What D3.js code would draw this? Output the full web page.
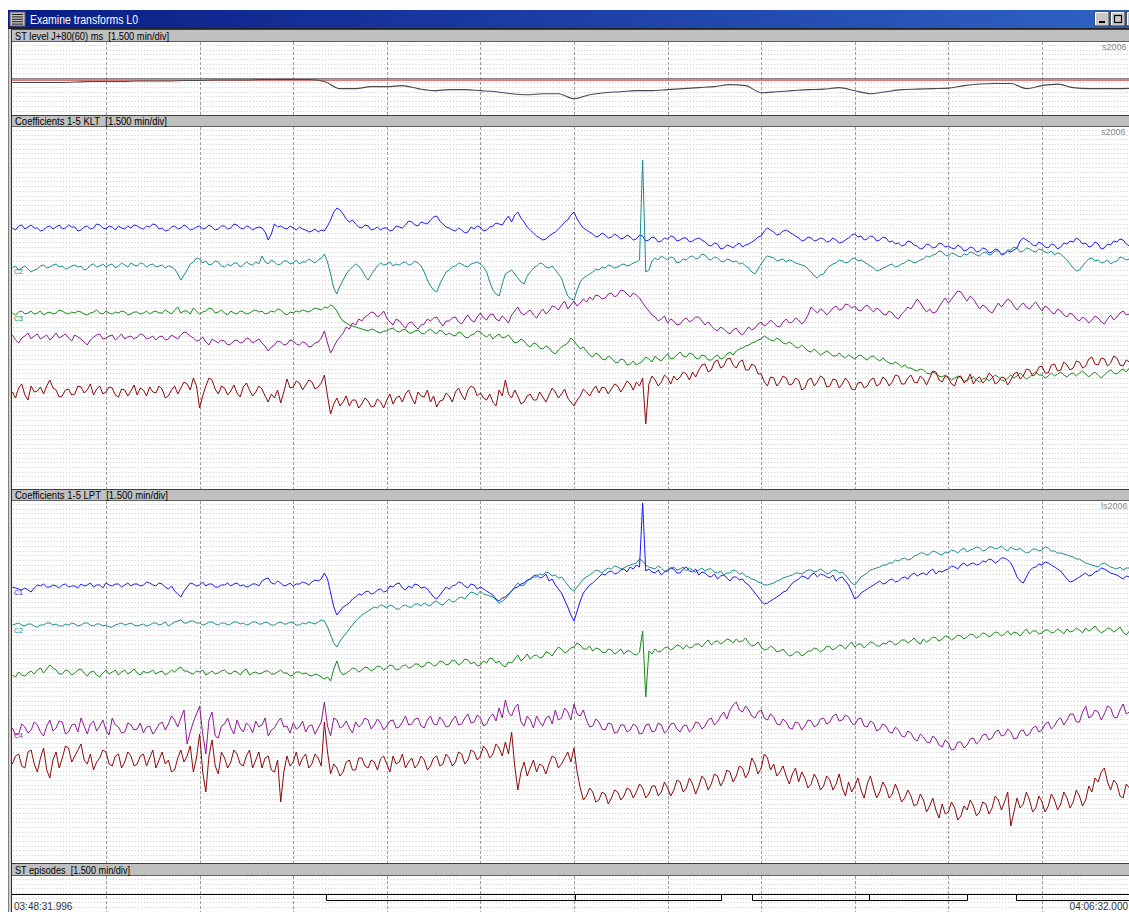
<!DOCTYPE html>
<html>
<head>
<meta charset="utf-8">
<script src="https://cdn.jsdelivr.net/npm/d3@7"></script>
<style>
  html, body { margin: 0; padding: 0; background: #fff; overflow: hidden; }
  svg { display: block; font-family: "Liberation Sans", Arial, sans-serif; }
  text { white-space: pre; }
</style>
</head>
<body>
<svg id="chart" width="1129" height="912"></svg>
<script>
// ---- Recording window ----
const windowTitle = "Examine transforms L0";
const recordId = "s2006";
const startTime = "03:48:31.996";
const endTime = "04:06:32.000";
const minutesPerDiv = 1.5;
const totalMinutes = 18;
const panelTitles = [
  "ST level J+80(60) ms  [1.500 min/div]",
  "Coefficients 1-5 KLT  [1.500 min/div]",
  "Coefficients 1-5 LPT  [1.500 min/div]",
  "ST episodes  [1.500 min/div]"
];

// ---- ST level (µV), one value every 0.25 min ----
const stStep = 0.25;
const stLevel = [
  -30, -30, -30, -30, -25, -20, -20, -20, -15, -15,
  -15, -10, -10, -5, -5, -5, 0, 0, 0, 0,
  -20, -90, -90, -70, -70, -60, -90, -110, -100, -100,
  -110, -120, -140, -150, -140, -140, -190, -150, -130, -120,
  -110, -110, -100, -90, -80, -70, -50, -60, -130, -120,
  -110, -100, -95, -80, -110, -140, -120, -100, -95, -90,
  -85, -60, -45, -40, -40, -90, -60, -45, -80, -90,
  -90, -90, -85
];

// ---- KLT / LPT coefficients, one value every 0.05 min ----
const coefStep = 0.05;
const kltC1 = [
  0,-2, 2,3, -1,1, 3,0, 0,-3, -2,1, 2,-1, 1,3, -1,0, 3,1,
  1,-3, -2,1, 2,-1, 0,4, 3,0, -1,2, 1,-2, 2,0, -1,2, 0,3,
  2,0, -1,2, 1,4, 3,-1, 0,-3, -2,1, 2,-1, 0,3, 1,-2, -1,1,
  2,-1, 0,3, 1,-2, -1,2, 2,-1, 0,4, 3,0, -1,2, 1,-2, 0,1,
  0,-4, -12,-6, 4,1, 2,0, -1,2, 0,-2, 1,-1, -2,-4, -3,-1, -4,-2,
  -3,2, 8,16, 20,18, 14,9, 6,8, 4,1, 0,3, 2,-2, -1,1, -2,0,
  0,-3, -2,2, 1,0, 3,7, 6,3, 2,6, 5,4, 8,11, 12,7, 4,1,
  0,-2, -3,0, -2,-5, -4,1, -1,2, 1,-3, -2,1, 2,5, 4,3, 8,12,
  6,13, 16,10, 6,1, -2,-5, -8,-10, -12,-11, -8,-6, -4,-1, 2,6, 8,13,
  16,9, 4,0, -2,-4, -6,-9, -8,-5, -7,-10, -9,-6, -8,-11, -10,-7, -9,-12,
  -11,-7, -8,-13, -12,-9, -10,-14, -13,-10, -11,-8, -9,-13, -12,-10, -10,-14, -13,-11,
  -10,-12, -14,-17, -18,-15, -16,-21, -20,-17, -18,-20, -17,-15, -19,-17, -16,-14, -12,-9,
  -8,-3, 0,-2, -4,-7, -6,-3, -2,-4, -6,-8, -10,-13, -12,-9, -10,-13, -12,-10,
  -11,-14, -13,-10, -12,-15, -14,-12, -10,-7, -6,-9, -8,-12, -11,-8, -9,-13, -12,-9,
  -10,-14, -13,-16, -15,-18, -17,-13, -14,-17, -18,-21, -20,-16, -17,-20, -19,-15, -16,-19,
  -18,-20, -21,-17, -19,-23, -22,-19, -20,-24, -23,-20, -21,-25, -24,-21, -22,-27, -26,-23,
  -24,-22, -20,-13, -10,-12, -14,-17, -18,-14, -16,-19, -20,-16, -17,-21, -19,-15, -16,-13,
  -14,-10, -12,-16, -15,-19, -18,-14, -16,-21, -20,-16, -17,-13, -14,-11, -12,-16, -18,-15
];
const kltC2 = [
  -2,0, -4,-2, 0,-3, -6,-4, -3,0, 1,-2, -1,1, 2,-1, 0,-3, -2,0,
  1,-1, 0,-4, -3,1, 2,-1, 0,2, -1,1, 2,-2, 0,3, 1,-1, 3,1,
  0,3, 2,-1, 1,2, -1,0, 1,-2, 0,-1, -3,-8, -14,-9, -4,2, 4,8,
  7,3, 5,1, 2,5, 4,0, -1,2, 0,3, 3,-1, 1,4, 2,1, 4,2,
  10,4, 2,6, 4,1, 2,5, 5,2, 3,6, 2,4, 4,7, 5,3, 6,8,
  12,4, -8,-22, -28,-20, -14,-8, -4,-1, 2,0, -4,-10, -14,-9, -4,0, 3,1,
  2,4, 0,2, 1,3, 4,1, 2,5, 3,0, -6,-14, -20,-24, -26,-18, -12,-6,
  -4,-1, 0,3, 2,0, -1,2, 3,4, 2,-1, -6,-16, -24,-28, -30,-18, -8,-6,
  -4,-8, -12,-16, -18,-10, -6,-2, 0,3, 2,-1, -2,0, -4,-8, -12,-22, -30,-33,
  -34,-24, -16,-12, -10,-8, -6,-3, -4,-1, -2,1, 0,-2, -1,1, 2,0, 1,3,
  4,6, 106,-6, -4,5, 8,6, 10,8, 6,9, 8,3, 4,7, 6,9, 10,7,
  8,12, 11,7, 6,9, 8,5, 4,7, 6,4, 5,2, 3,0, -2,-6, -8,-3,
  2,7, 10,9, 8,5, 6,7, 4,6, 5,3, 2,1, 0,-3, -6,-10, -12,-9,
  -8,-3, 0,2, 3,6, 5,3, 4,7, 8,5, 6,4, 2,0, -2,-5, -4,-2,
  -1,1, 2,-1, 0,2, 3,6, 5,3, 4,6, 7,10, 9,11, 12,15, 14,11,
  10,13, 12,10, 9,12, 11,14, 13,11, 10,13, 14,11, 12,15, 15,12, 13,16,
  16,19, 18,14, 15,18, 17,15, 14,17, 16,14, 13,15, 11,13, 12,9, 6,2,
  -2,-5, -4,0, 4,7, 8,5, 6,3, 4,6, 2,4, 5,9, 8,6, 7,9
];
const kltC3 = [
  0,-2, 1,2, -1,0, 2,-1, 0,2, -2,0, 1,-1, 0,3, 2,0, -1,1,
  0,2, 1,-1, -2,0, 1,3, 0,-1, 2,0, -1,1, 0,2, 1,-2, -1,1,
  1,-1, 0,2, -1,1, 2,0, 0,3, 1,-1, 3,6, 0,2, 2,-1, 5,2,
  -1,1, 2,5, 4,0, 1,3, 0,-2, 2,0, -1,2, 1,-1, 0,2, 3,1,
  2,-1, 0,2, 1,4, 3,0, -2,1, 0,2, 1,3, 2,1, 3,5, 4,3,
  6,5, 8,6, 2,-4, -8,-10, -12,-13, -14,-15, -16,-17, -18,-16, -17,-19, -20,-18,
  -18,-16, -15,-18, -19,-17, -16,-20, -20,-18, -17,-20, -21,-18, -16,-19, -21,-17, -19,-22,
  -20,-22, -23,-19, -20,-24, -25,-22, -21,-18, -19,-22, -24,-21, -26,-23, -21,-25, -24,-22,
  -26,-30, -29,-26, -28,-32, -34,-30, -31,-35, -36,-33, -35,-39, -41,-37, -34,-32, -30,-25,
  -28,-32, -36,-34, -38,-42, -44,-40, -42,-46, -47,-43, -45,-49, -50,-46, -47,-52, -51,-48,
  -52,-50, -48,-44, -46,-49, -43,-46, -48,-44, -41,-46, -45,-42, -39,-43, -44,-40, -41,-45,
  -46,-42, -43,-47, -47,-44, -42,-46, -45,-41, -39,-42, -38,-36, -35,-33, -32,-30, -29,-27,
  -26,-23, -25,-27, -28,-25, -27,-30, -31,-29, -31,-34, -35,-32, -35,-38, -39,-36, -39,-42,
  -40,-38, -40,-43, -43,-40, -43,-45, -42,-44, -46,-43, -42,-45, -47,-44, -43,-46, -48,-45,
  -48,-50, -51,-49, -51,-54, -52,-55, -55,-57, -58,-56, -57,-60, -61,-59, -61,-63, -64,-62,
  -64,-67, -65,-63, -65,-68, -68,-65, -64,-67, -69,-66, -65,-68, -65,-62, -64,-67, -68,-65,
  -62,-65, -63,-60, -63,-66, -64,-61, -59,-62, -62,-65, -63,-60, -63,-61, -59,-62, -64,-61,
  -60,-63, -60,-58, -61,-64, -61,-59, -62,-65, -62,-59, -57,-60, -61,-58, -56,-59, -55,-57
];
const kltC4 = [
  2,-3, -6,-1, 1,4, -2,1, 3,-2, 0,2, -3,0, 4,-1, 1,3, -1,-4,
  2,0, -2,-5, -8,-3, 0,2, 3,-2, -1,1, 2,-3, 0,3, -2,0, 1,-2,
  0,3, 2,-2, -1,1, -3,0, 1,-3, -2,2, 0,-2, 2,5, 4,1, -1,-4,
  -3,0, -5,-8, -2,-4, -6,-3, -4,-8, -7,-4, -3,-6, -5,-1, -2,-6, -4,-2,
  -6,-9, -14,-10, -8,-4, -5,-8, -7,-3, -4,-7, -8,-5, -6,-10, -9,-6, -5,-1,
  6,-6, -16,-10, -4,0, 4,10, 8,14, 12,18, 16,20, 22,25, 24,20, 22,26,
  19,15, 12,18, 16,12, 9,14, 15,11, 8,12, 13,18, 16,19, 20,15, 11,16,
  16,19, 20,15, 13,18, 22,17, 15,20, 24,19, 17,22, 23,18, 16,21, 18,14,
  22,26, 30,24, 22,25, 27,22, 19,24, 28,23, 26,31, 30,27, 32,36, 28,32,
  36,31, 34,38, 35,40, 37,42, 41,38, 39,43, 44,40, 42,47, 46,43, 40,44,
  42,39, 34,30, 26,22, 20,16, 18,21, 14,18, 16,12, 13,17, 19,15, 17,20,
  20,16, 12,15, 11,8, 6,10, 8,5, 3,7, 9,4, 2,6, 10,7, 9,13,
  15,11, 13,17, 14,11, 10,15, 18,14, 15,19, 17,13, 16,22, 30,27, 24,28,
  26,22, 25,29, 31,27, 28,33, 32,29, 31,27, 26,30, 32,28, 25,29, 27,23,
  22,26, 24,20, 18,23, 26,30, 28,33, 38,34, 29,25, 28,24, 25,30, 35,39,
  34,38, 42,46, 45,40, 36,41, 38,33, 28,32, 30,26, 24,29, 34,30, 34,38,
  36,31, 27,31, 34,30, 28,32, 35,30, 26,31, 29,25, 23,28, 26,22, 20,24,
  22,18, 16,20, 18,14, 17,21, 19,15, 13,18, 22,17, 20,24, 26,22, 23,27
];
const kltC5 = [
  0,-6, 4,8, -3,-8, 6,0, 1,5, -2,6, 12,4, 2,-5, -4,2, 3,-3,
  -2,6, 5,-1, 2,8, -3,3, 6,-2, 0,5, 4,-3, -5,3, 2,-4, 1,7,
  -3,4, 2,-4, 5,0, -1,6, 3,-6, -4,2, 6,-2, 4,10, 8,2, 14,6,
  -16,-4, 6,14, 12,3, -2,6, 4,-3, 1,7, -1,-5, 5,9, 2,-4, 0,6,
  3,-4, -10,-2, -6,2, -11,0, 13,4, 5,11, 9,2, 7,12, 10,3, 5,9,
  17,-4, -22,-12, -6,-14, -10,-4, -14,-8, -8,-16, -12,-6, -9,-15, -14,-7, -10,-16,
  -8,-2, -12,-6, -4,-10, -2,2, -6,-12, 0,-4, -5,2, -10,-4, -15,-9, -8,-1,
  -4,-10, 0,4, -3,-8, 2,6, 4,-4, -1,-6, -8,-2, -10,-14, 2,-4, 12,-2,
  -6,2, -4,-12, -10,-4, -2,-8, -8,0, -5,-10, -3,4, 0,-6, -2,3, -6,-10,
  -14,-8, -4,3, 0,-4, 2,6, -1,5, 4,-2, 3,8, 6,0, 5,11, 8,2,
  10,6, 14,-32, 8,16, 12,6, 10,17, 14,8, 16,12, 15,20, 18,12, 20,15,
  22,27, 28,20, 22,30, 32,24, 26,33, 34,27, 24,30, 32,22, 22,28, 26,18,
  18,10, 6,15, 14,6, 10,16, 14,7, 8,14, 12,2, 4,12, 14,6, 10,16,
  14,5, 6,13, 12,4, 8,14, 10,3, 2,9, 10,4, 6,12, 14,6, 8,15,
  12,6, 10,17, 16,8, 8,14, 17,10, 9,16, 13,7, 14,21, 20,12, 10,16,
  14,8, 6,15, 16,9, 12,18, 8,13, 15,9, 12,19, 16,8, 10,15, 14,7,
  12,18, 20,13, 16,23, 22,16, 18,25, 26,19, 19,27, 28,21, 22,30, 27,22,
  24,31, 30,24, 26,33, 35,28, 27,34, 33,26, 29,36, 34,27, 26,32, 30,25
];
const lptC1 = [
  0,-1, -2,-3, -1,-3, -5,-1, 2,1, 3,0, 0,2, 1,-1, 2,3, 0,1,
  1,-1, 3,1, 2,4, 0,2, 2,-1, 4,2, 1,3, 3,0, 2,4, 1,3,
  3,1, 2,5, 4,2, 1,4, 3,0, -2,1, -4,-7, -10,-4, 0,4, 3,1,
  2,5, 1,3, 3,0, 0,2, 2,4, 1,3, 4,1, 2,0, 1,3, 3,1,
  6,8, 9,4, 3,6, 4,1, 2,4, 1,3, 3,5, 4,2, 5,7, 6,8,
  14,8, -6,-20, -28,-24, -20,-18, -16,-12, -10,-7, -8,-5, -4,-7, -6,-3, -2,-5,
  -4,1, 0,3, 4,-1, -3,1, -1,3, 2,-1, 0,-2, -6,-10, -12,-8, -4,0,
  -2,1, 2,5, 4,1, -1,3, 2,-2, 0,-2, -4,-6, -8,-12, -14,-11, -10,-7,
  -4,-1, 0,3, 4,7, 8,11, 12,9, 10,13, 6,8, 2,-2, -6,-13, -20,-28,
  -34,-24, -14,-6, -2,2, 4,7, 10,13, 12,15, 16,13, 14,17, 18,15, 20,18,
  22,20, 84,16, 18,15, 14,17, 12,15, 16,19, 18,14, 14,18, 20,16, 15,18,
  12,15, 14,11, 10,13, 8,11, 12,9, 6,10, 10,7, 8,4, 2,-2, -6,-10,
  -14,-17, -16,-14, -12,-10, -8,-5, -4,0, 4,6, 8,11, 10,8, 12,14, 10,13,
  12,10, 9,12, 6,9, 10,6, 2,-5, -12,-10, -6,-4, -2,0, 2,4, 6,3,
  4,7, 8,5, 6,9, 10,8, 12,14, 11,13, 14,12, 16,18, 13,16, 15,17,
  18,21, 20,18, 22,24, 21,23, 24,22, 23,26, 25,28, 27,24, 26,29, 29,27,
  24,18, 10,6, 4,10, 16,19, 20,23, 22,25, 24,22, 20,18, 16,12, 8,5,
  6,8, 10,12, 14,11, 12,15, 16,19, 18,16, 14,13, 12,10, 8,11, 10,12
];
const lptC2 = [
  0,1, 2,0, -1,1, 1,-1, -2,0, 0,2, 2,0, 1,-1, -1,1, 0,2,
  1,-1, 0,2, 2,0, -1,1, 1,-1, 0,-2, -2,0, 1,2, 0,1, 2,0,
  -1,0, 1,-1, 0,2, 2,0, 1,3, -1,1, 3,4, 5,2, 2,4, 4,2,
  2,0, 1,3, 3,1, 0,2, 2,0, 1,3, 3,1, 2,0, 1,3, 3,1,
  1,3, 2,0, 0,2, 3,1, 1,3, 2,0, 0,2, 1,3, 2,1, 3,5,
  4,-2, -10,-18, -22,-16, -12,-8, -4,0, 4,7, 10,12, 14,16, 18,17, 20,19,
  17,20, 19,16, 16,19, 20,18, 18,21, 21,19, 22,20, 19,23, 24,21, 20,23,
  26,23, 24,27, 28,26, 30,33, 32,30, 34,31, 30,29, 28,25, 22,24, 26,30,
  34,38, 42,39, 40,44, 46,48, 48,51, 50,53, 52,49, 50,47, 48,44, 40,36,
  34,38, 42,46, 48,50, 52,55, 54,52, 55,57, 56,59, 58,56, 57,59, 60,61,
  62,66, 64,60, 58,57, 56,59, 57,54, 55,57, 58,55, 56,58, 54,57, 55,53,
  55,57, 54,56, 56,53, 52,54, 50,52, 52,55, 54,51, 52,49, 48,46, 45,43,
  42,40, 40,41, 42,44, 45,47, 48,49, 50,52, 52,51, 53,55, 55,53, 54,56,
  54,51, 52,55, 55,52, 53,50, 46,42, 40,44, 48,50, 52,55, 56,57, 58,60,
  60,62, 62,65, 64,66, 67,65, 66,69, 70,72, 72,70, 71,74, 73,71, 70,73,
  72,75, 74,72, 75,77, 73,75, 76,78, 77,74, 75,78, 78,76, 77,79, 76,74,
  78,76, 75,77, 74,72, 73,76, 76,74, 75,78, 77,74, 74,72, 72,71, 70,69,
  68,66, 66,64, 62,61, 60,59, 58,61, 62,60, 58,57, 56,58, 55,57, 57,55
];
const lptC3 = [
  -2,-4, 1,-2, -3,0, 2,-1, 3,5, 0,4, 8,5, 3,-1, -1,3, 2,-2,
  0,3, 4,0, -3,1, 2,-2, -4,0, 3,-1, 1,3, -2,1, 3,-1, 1,4,
  0,-2, 2,0, 1,3, -1,1, 2,-2, 0,3, 1,4, 6,2, 2,0, -1,2,
  1,3, -2,0, 2,-1, 0,2, 3,0, -1,2, 1,-2, 2,4, -2,0, 1,-1,
  0,2, 2,-1, -1,1, 3,0, 0,-3, -2,1, 1,-1, 0,-2, -3,-1, -2,-4,
  -6,-4, -8,4, 12,2, -2,0, 2,5, 4,1, 3,6, 5,2, 4,7, 6,3,
  5,8, 7,3, 4,7, 8,5, 6,9, 9,6, 7,11, 10,7, 8,12, 11,8,
  9,13, 12,8, 10,14, 13,9, 11,7, 8,12, 10,15, 14,10, 12,8, 6,11,
  10,14, 18,12, 15,19, 14,17, 18,15, 16,21, 20,17, 22,26, 24,20, 22,25,
  26,30, 28,24, 24,27, 22,25, 24,21, 20,24, 23,19, 21,24, 19,22, 22,19,
  18,21, 42,-24, 22,19, 24,21, 22,25, 26,23, 25,28, 27,24, 28,25, 26,29,
  29,26, 30,33, 28,31, 32,29, 31,34, 33,30, 34,31, 32,35, 30,27, 28,31,
  26,23, 24,27, 25,21, 22,24, 20,17, 18,21, 21,17, 19,22, 22,25, 24,21,
  23,27, 26,23, 25,28, 27,24, 28,31, 26,29, 29,25, 28,31, 30,27, 27,30,
  29,32, 31,28, 30,33, 33,30, 32,35, 31,29, 34,31, 33,36, 35,32, 34,37,
  36,33, 35,38, 37,34, 36,39, 38,35, 37,40, 39,36, 38,41, 40,37, 39,42,
  38,41, 40,37, 41,44, 39,42, 42,39, 40,43, 43,40, 41,44, 42,39, 44,41,
  42,45, 43,40, 45,42, 44,47, 43,40, 42,45, 44,41, 43,46, 41,38, 42,44
];
const lptC4 = [
  2,-5, -4,6, 3,-3, 0,8, 5,-2, -6,4, 10,-1, 2,9, 8,-4, -2,5,
  6,-2, 12,4, -4,6, 9,-1, 4,10, 0,-5, 12,5, 3,-3, -2,7, 5,0,
  1,7, -3,3, 4,-4, 0,6, 8,0, 6,14, 10,3, 12,20, -14,-2, 8,16,
  24,-4, -24,10, 18,-6, -8,4, 6,12, 2,-4, 10,2, -2,7, 4,-3, 9,3,
  5,12, -6,0, 2,8, 12,3, 4,-3, 7,1, 3,9, -2,4, 5,-4, 2,8,
  28,4, -6,12, 10,2, 4,9, 2,-3, 8,3, 6,12, 10,1, 5,11, 7,0,
  4,9, 10,2, 3,8, 14,5, 6,11, 12,4, 2,10, 14,6, 5,13, 9,3,
  4,10, 14,5, 6,12, 16,7, 8,15, 12,4, 6,13, 16,9, 22,12, 30,18,
  14,22, 26,8, 4,14, 10,2, 14,8, 4,12, 14,6, 20,10, 12,22, 18,10,
  26,16, 14,20, 10,3, 4,11, 8,1, 0,7, 6,-3, -2,5, 5,-2, 0,6,
  4,-4, -3,5, 6,-2, -1,7, 5,-3, 0,6, 7,1, -2,4, 5,-2, 1,8,
  7,1, 4,10, 12,5, 8,14, 18,11, 20,25, 28,20, 18,24, 20,14, 12,18,
  20,12, 10,16, 13,6, 5,11, 8,2, 1,8, 7,0, 4,10, 9,3, 5,11,
  12,6, 8,14, 16,9, 10,15, 13,7, 5,11, 12,4, 3,9, 7,-1, 1,6,
  4,-2, -3,3, 0,-6, -7,-1, -3,-9, -11,-4, -7,-12, -13,-6, -9,-15, -17,-10,
  -13,-20, -19,-12, -12,-18, -15,-9, -8,-14, -11,-5, -4,-10, -8,-2, 0,-6, -5,1,
  -2,-9, -8,-1, 0,-6, -4,2, 4,-2, 0,6, 8,1, 4,10, 12,5, 10,16,
  16,8, 8,18, 24,12, 14,20, 18,10, 16,24, 22,13, 12,20, 26,16, 18,24
];
const lptC5 = [
  -2,6, 8,-4, -6,10, 12,-2, -10,4, 14,-8, -16,2, 10,-6, 4,16, 14,0,
  6,12, 18,2, -2,8, -8,0, 4,12, 10,-2, -4,6, 8,-6, 0,10, 6,-4,
  -2,6, 8,-4, 4,12, -6,2, 10,-2, 2,-10, -8,4, 12,0, 6,16, -10,4,
  28,-10, -30,6, 22,-4, -12,10, 4,-6, 0,12, 8,-2, -4,6, 12,-6, 2,10,
  -6,4, 6,-8, -10,2, -40,-10, 6,-4, 0,10, -4,4, 8,-6, -2,8, 4,-4,
  40,10, -12,-2, -6,-14, -10,0, 2,-8, -8,4, 4,-4, -6,2, 0,-8, 3,6,
  -2,-10, 6,-2, 0,8, -6,0, 4,-6, -2,6, 2,-8, -4,4, 6,-4, -2,8,
  4,-4, 0,10, 8,-2, 2,12, 10,2, 6,16, 12,4, 8,18, 14,6, 20,8,
  30,-4, -28,-10, 0,-14, -6,2, -10,-2, -4,-12, -2,6, 4,-6, -2,4, 10,0,
  14,-10, -26,-38, -34,-26, -30,-40, -38,-30, -32,-42, -36,-28, -30,-38, -34,-26, -28,-36,
  -30,-22, -26,-36, -32,-24, -24,-34, -30,-20, -26,-34, -28,-18, -20,-30, -26,-16, -22,-32,
  -24,-14, -18,-28, -22,-12, -14,-24, -18,-8, -10,-20, -14,-4, -6,-16, -10,4, -2,-12,
  -6,8, 4,-8, -2,-14, -10,-4, -14,-22, -12,-6, -20,-10, -16,-26, -22,-12, -18,-28,
  -24,-14, -18,-28, -22,-12, -26,-34, -20,-30, -24,-16, -28,-36, -22,-14, -26,-36, -30,-20,
  -26,-36, -32,-22, -30,-40, -36,-28, -34,-44, -42,-32, -38,-50, -44,-36, -48,-56, -42,-52,
  -50,-40, -46,-58, -54,-44, -48,-38, -44,-54, -50,-40, -42,-52, -46,-34, -38,-48, -40,-30,
  -64,-50, -36,-46, -42,-30, -38,-50, -46,-34, -40,-50, -44,-32, -38,-48, -42,-30, -36,-46,
  -40,-28, -34,-44, -38,-24, -30,-16, -20,-10, -6,-20, -28,-18, -22,-34, -36,-22, -26,-36
];

// ---- ST episodes: start / end in minutes from the record start ----
const episodeStart = [5.03, 9.02, 11.85, 13.73, 16.08];
const episodeEnd   = [9.02, 11.36, 13.73, 15.30, 18.6];

// ---------------------------------------------------------------
const W = 1129, H = 912;
const svg = d3.select("#chart");
const defs = svg.append("defs");

const x = d3.scaleLinear().domain([0, totalMinutes]).range([12.4, 1135.6]);

const panels = {
  st:  { head: 29,  top: 42,  bottom: 115 },
  klt: { head: 115, top: 127, bottom: 489 },
  lpt: { head: 489, top: 501, bottom: 863 },
  epi: { head: 863, top: 876, bottom: 912 }
};

svg.append("rect").attr("width", W).attr("height", H).attr("fill", "#fff");

// plot backgrounds: dotted minor grid and dashed division lines
function drawGrid(p, key) {
  const g = svg.append("g");
  g.append("rect").attr("x", 12).attr("y", p.top).attr("width", W - 12)
    .attr("height", p.bottom - p.top).attr("fill", "#fff");
  const rows = d3.range(p.top + 3, p.bottom, 93.6 / 20);
  g.selectAll("line.minor").data(rows).join("line")
    .attr("x1", 13).attr("x2", W)
    .attr("y1", d => Math.round(d) + 0.5).attr("y2", d => Math.round(d) + 0.5)
    .attr("stroke", "#cbcbcb").attr("stroke-width", 1)
    .attr("stroke-dasharray", "1 2.12");
  const divs = d3.range(minutesPerDiv, totalMinutes, minutesPerDiv);
  g.selectAll("line.major").data(divs).join("line")
    .attr("x1", d => Math.round(x(d)) + 0.5).attr("x2", d => Math.round(x(d)) + 0.5)
    .attr("y1", p.top).attr("y2", p.bottom)
    .attr("stroke", "#9c9c9c").attr("stroke-width", 1)
    .attr("stroke-dasharray", "3 2");
  defs.append("clipPath").attr("id", "clip-" + key)
    .append("rect").attr("x", 12).attr("y", p.top).attr("width", W - 12).attr("height", p.bottom - p.top);
}
Object.entries(panels).forEach(([k, p]) => drawGrid(p, k));

// ---- ST level panel ----
const yST = d3.scaleLinear().domain([-350, 370]).range([panels.st.bottom, panels.st.top]);
const stG = svg.append("g").attr("clip-path", "url(#clip-st)");
stG.append("line").attr("x1", 12).attr("x2", W)
  .attr("y1", yST(12) + 0.5).attr("y2", yST(12) + 0.5)
  .attr("stroke", "#5a5a5a").attr("stroke-width", 1);
stG.append("line").attr("x1", 12).attr("x2", W)
  .attr("y1", yST(-2) + 0.5).attr("y2", yST(-2) + 0.5)
  .attr("stroke", "#d24a4a").attr("stroke-width", 1.2);
stG.append("path").datum(stLevel)
  .attr("fill", "none").attr("stroke", "#4a4a4a").attr("stroke-width", 1.1)
  .attr("d", d3.line().curve(d3.curveMonotoneX)
    .x((d, i) => x(i * stStep)).y(d => yST(d)));
svg.append("text").attr("x", 1102).attr("y", 50).attr("font-size", 9)
  .attr("fill", "#8a8a8a").text(recordId);

// ---- coefficient panels ----
function drawCoefficients(key, traces, tag) {
  const p = panels[key];
  const g = svg.append("g").attr("clip-path", `url(#clip-${key})`);
  traces.forEach(t => {
    const y = d3.scaleLinear().domain([-100, 100]).range([t.lane + 100, t.lane - 100]);
    g.append("path").datum(t.values)
      .attr("fill", "none").attr("stroke", t.color).attr("stroke-width", 1)
      .attr("stroke-linejoin", "round")
      .attr("d", d3.line().x((d, i) => x(i * coefStep)).y(d => y(d)));
    if (t.label) {
      g.append("text").attr("x", 14).attr("y", t.lane + 8).attr("font-size", 7)
        .attr("fill", t.color).text(t.name);
    }
  });
  svg.append("text").attr("x", 1101).attr("y", p.top + 8)
    .attr("font-size", 9).attr("fill", "#8a8a8a").text(tag);
}

drawCoefficients("klt", [
  { name: "C1", values: kltC1, lane: 228, color: "#1a1aff" },
  { name: "C2", values: kltC2, lane: 266, color: "#1a8c8c", label: true },
  { name: "C3", values: kltC3, lane: 313, color: "#168a16", label: true },
  { name: "C4", values: kltC4, lane: 337, color: "#8e1a96" },
  { name: "C5", values: kltC5, lane: 392, color: "#8a0c0c" }
], recordId);

drawCoefficients("lpt", [
  { name: "C4", values: lptC4, lane: 730, color: "#8e1a96", label: true },
  { name: "C5", values: lptC5, lane: 762, color: "#8a0c0c" },
  { name: "C3", values: lptC3, lane: 673, color: "#168a16" },
  { name: "C2", values: lptC2, lane: 625, color: "#1a8c8c", label: true },
  { name: "C1", values: lptC1, lane: 587, color: "#1a1aff", label: true }
], "l" + recordId);

// ---- ST episodes ----
const epG = svg.append("g").attr("clip-path", "url(#clip-epi)");
epG.append("line").attr("x1", 12).attr("x2", W).attr("y1", 894.5).attr("y2", 894.5)
  .attr("stroke", "#000").attr("stroke-width", 1);
epG.selectAll("path.ep").data(episodeStart.map((s, i) => [s, episodeEnd[i]])).join("path")
  .attr("fill", "none").attr("stroke", "#000").attr("stroke-width", 1)
  .attr("d", d => {
    const a = Math.round(x(d[0])) + 0.5, b = Math.round(x(d[1])) + 0.5;
    return `M${a},894.5V900.5H${b}V894.5`;
  });
svg.append("text").attr("x", 14).attr("y", 910).attr("font-size", 10)
  .attr("fill", "#333").text(startTime);
svg.append("text").attr("x", 1128).attr("y", 910).attr("font-size", 10)
  .attr("text-anchor", "end").attr("fill", "#333").text(endTime);

// ---- panel header bars ----
const titleWidths = [154, 152, 153, 115];
[panels.st, panels.klt, panels.lpt, panels.epi].forEach((p, i) => {
  const h = p.top - p.head;
  svg.append("rect").attr("x", 12).attr("y", p.head).attr("width", W - 12).attr("height", h)
    .attr("fill", "#c0c0c0");
  svg.append("line").attr("x1", 12).attr("x2", W).attr("y1", p.head + 0.5).attr("y2", p.head + 0.5)
    .attr("stroke", "#404040");
  svg.append("line").attr("x1", 12).attr("x2", W).attr("y1", p.top - 0.5).attr("y2", p.top - 0.5)
    .attr("stroke", "#606060");
  svg.append("text").attr("x", 15).attr("y", p.head + h / 2 + 4.2).attr("font-size", 10.6)
    .attr("textLength", titleWidths[i]).attr("lengthAdjust", "spacingAndGlyphs")
    .attr("fill", "#000").text(panelTitles[i]);
});

// ---- window frame ----
svg.append("rect").attr("x", 8).attr("y", 10).attr("width", 4).attr("height", H - 10).attr("fill", "#d4d0c8");
svg.append("line").attr("x1", 8.5).attr("x2", 8.5).attr("y1", 10).attr("y2", H).attr("stroke", "#808080");
svg.append("line").attr("x1", 11.5).attr("x2", 11.5).attr("y1", 28).attr("y2", H).attr("stroke", "#303030");

const grad = defs.append("linearGradient").attr("id", "titleGrad");
grad.append("stop").attr("offset", "0%").attr("stop-color", "#0a1c86");
grad.append("stop").attr("offset", "100%").attr("stop-color", "#2f62c4");
svg.append("rect").attr("x", 8).attr("y", 10).attr("width", W - 8).attr("height", 18).attr("fill", "url(#titleGrad)");
svg.append("line").attr("x1", 8).attr("x2", W).attr("y1", 28.5).attr("y2", 28.5).attr("stroke", "#202020");

// system menu icon
svg.append("rect").attr("x", 10).attr("y", 12).attr("width", 15).attr("height", 14).attr("fill", "#c0c0c0")
  .attr("stroke", "#606060");
svg.selectAll("line.menu").data(d3.range(5)).join("line")
  .attr("x1", 12).attr("x2", 23).attr("y1", d => 14.5 + d * 2.4).attr("y2", d => 14.5 + d * 2.4)
  .attr("stroke", "#202020");
svg.append("text").attr("x", 30).attr("y", 23.5).attr("font-size", 12)
  .attr("textLength", 108).attr("lengthAdjust", "spacingAndGlyphs")
  .attr("fill", "#fff").text(windowTitle);

// caption buttons
function button(bx, glyph) {
  svg.append("rect").attr("x", bx).attr("y", 12).attr("width", 14).attr("height", 14)
    .attr("fill", "#c8c8c8").attr("stroke", "#404040");
  svg.append("line").attr("x1", bx + 0.5).attr("x2", bx + 13).attr("y1", 12.5).attr("y2", 12.5).attr("stroke", "#fff");
  svg.append("line").attr("x1", bx + 0.5).attr("x2", bx + 0.5).attr("y1", 12.5).attr("y2", 25).attr("stroke", "#fff");
  glyph(bx);
}
button(1095, bx => svg.append("rect").attr("x", bx + 4).attr("y", 21).attr("width", 6).attr("height", 2).attr("fill", "#000"));
button(1111, bx => svg.append("rect").attr("x", bx + 3.5).attr("y", 15.5).attr("width", 7).attr("height", 7)
  .attr("fill", "none").attr("stroke", "#000").attr("stroke-width", 1.2));
button(1127, bx => {});
</script>
</body>
</html>
